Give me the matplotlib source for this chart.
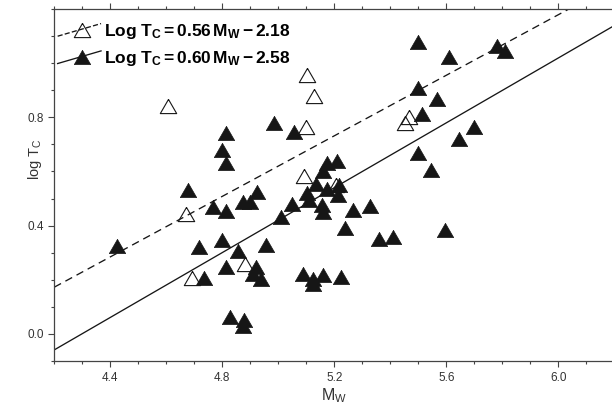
import numpy as np
import matplotlib
matplotlib.use("Agg")
import matplotlib.pyplot as plt
from matplotlib.lines import Line2D
from matplotlib.legend_handler import HandlerLine2D
from matplotlib.ticker import MultipleLocator, FixedLocator, FormatStrFormatter

# Magnitude and log Tc for the two event groups
open_mw = [4.605, 5.104, 5.129, 5.099, 5.092, 4.670, 4.691, 4.881, 5.206, 5.452, 5.468]
open_logtc = [0.842, 0.957, 0.879, 0.765, 0.583, 0.444, 0.207, 0.259, 0.549, 0.778, 0.800]

filled_mw = [4.425, 4.679, 4.718, 4.735, 4.768, 4.800, 4.800, 4.813, 4.813, 4.813,
             4.813, 4.828, 4.857, 4.873, 4.877, 4.875, 4.899, 4.909, 4.920, 4.923,
             4.937, 4.956, 4.985, 5.008, 5.048, 5.055, 5.087, 5.104, 5.111, 5.125,
             5.125, 5.135, 5.155, 5.159, 5.159, 5.161, 5.175, 5.175, 5.211, 5.216,
             5.214, 5.223, 5.237, 5.268, 5.328, 5.361, 5.411, 5.498, 5.498, 5.498,
             5.514, 5.544, 5.566, 5.595, 5.611, 5.646, 5.700, 5.782, 5.810]
filled_logtc = [0.323, 0.532, 0.320, 0.207, 0.469, 0.678, 0.345, 0.741, 0.630, 0.454,
                0.247, 0.062, 0.306, 0.027, 0.052, 0.487, 0.487, 0.222, 0.247, 0.524,
                0.204, 0.327, 0.778, 0.430, 0.481, 0.747, 0.222, 0.520, 0.494, 0.204,
                0.183, 0.555, 0.475, 0.450, 0.216, 0.603, 0.630, 0.537, 0.638, 0.550,
                0.512, 0.210, 0.390, 0.457, 0.473, 0.352, 0.356, 1.080, 0.910, 0.667,
                0.812, 0.605, 0.870, 0.385, 1.022, 0.722, 0.763, 1.064, 1.047]

# Regression fits: log Tc = slope * Mw + intercept
fit_slopes = [0.56, 0.60]
fit_intercepts = [-2.18, -2.58]
fit_labels = [r"$\mathbf{Log\ T_C = 0.56\,M_W - 2.18}$",
              r"$\mathbf{Log\ T_C = 0.60\,M_W - 2.58}$"]

x_limits = (4.2, 6.2)
y_limits = (-0.1, 1.2)
x_ticks = [4.4, 4.8, 5.2, 5.6, 6.0]
y_ticks = [0.0, 0.4, 0.8]

plt.rcParams["font.family"] = ["Liberation Sans", "DejaVu Sans"]
plt.rcParams["mathtext.fontset"] = "custom"
plt.rcParams["mathtext.rm"] = "Liberation Sans"
plt.rcParams["mathtext.it"] = "Liberation Sans"
plt.rcParams["mathtext.bf"] = "Liberation Sans:bold"
plt.rcParams["lines.scale_dashes"] = False

TEXT = "#333333"
INK = "#161616"

# equilateral triangle centred on its bounding box
TRI = [(0.0, 0.866), (-1.0, -0.866), (1.0, -0.866), (0.0, 0.866)]
MS = 11.8

fig = plt.figure(figsize=(6.12, 4.05), dpi=100)
ax = fig.add_axes([0.0887, 0.1094, 0.9151, 0.8676])

xs = np.array(x_limits)
styles = [dict(linestyle=(0, (5.5, 3.6)), color=INK, lw=0.95),
          dict(linestyle="-", color=INK, lw=0.95)]
for slope, icpt, st in zip(fit_slopes, fit_intercepts, styles):
    ax.plot(xs, slope * xs + icpt, zorder=2, **st)

ax.plot(open_mw, open_logtc, linestyle="None", marker=TRI, ms=MS,
        mfc="none", mec=INK, mew=0.8, zorder=3)
ax.plot(filled_mw, filled_logtc, linestyle="None", marker=TRI, ms=MS,
        mfc=INK, mec=INK, mew=0.5, zorder=4)

ax.set_xlim(*x_limits)
ax.set_ylim(*y_limits)
ax.xaxis.set_major_locator(FixedLocator(x_ticks))
ax.xaxis.set_minor_locator(MultipleLocator(0.1))
ax.yaxis.set_major_locator(FixedLocator(y_ticks))
ax.yaxis.set_minor_locator(MultipleLocator(0.1))
ax.xaxis.set_major_formatter(FormatStrFormatter("%.1f"))
ax.yaxis.set_major_formatter(FormatStrFormatter("%.1f"))
ax.tick_params(which="both", direction="out", top=True, right=True,
               color="#444444", width=0.8, labelsize=8.5, labelcolor=TEXT)
ax.tick_params(axis="x", pad=4)
ax.tick_params(axis="y", pad=3.5)
ax.tick_params(which="major", length=4)
ax.tick_params(which="minor", length=2.5)
for sp in ax.spines.values():
    sp.set_color("#444444")
    sp.set_linewidth(0.9)

ax.set_xlabel(r"$\mathregular{M_W}$", fontsize=11.5, color=TEXT, labelpad=1.5)
ax.set_ylabel(r"$\mathregular{log\ T_C}$", fontsize=10.5, color=TEXT)
ax.yaxis.set_label_coords(-0.019, 0.574)


class SlantedHandler(HandlerLine2D):
    """Legend handle with a tilted line and a marker at its middle."""

    def create_artists(self, legend, orig_handle, xdescent, ydescent,
                       width, height, fontsize, trans):
        x0, x1 = -xdescent, -xdescent + width
        y0, y1 = -ydescent - 0.02 * height, -ydescent + 1.02 * height
        line = Line2D([x0, x1], [y0, y1], linestyle=orig_handle.get_linestyle(),
                      color=orig_handle.get_color(), lw=orig_handle.get_linewidth())
        mark = Line2D([(x0 + x1) / 2 + 2], [(y0 + y1) / 2], linestyle="None",
                      marker=orig_handle.get_marker(), ms=orig_handle.get_markersize(),
                      mfc=orig_handle.get_markerfacecolor(),
                      mec=orig_handle.get_markeredgecolor(),
                      mew=orig_handle.get_markeredgewidth())
        line.set_transform(trans)
        mark.set_transform(trans)
        return [line, mark]


handles = [Line2D([], [], marker=TRI, ms=MS, mfc="none", mec=INK, mew=0.8, **styles[0]),
           Line2D([], [], marker=TRI, ms=MS, mfc=INK, mec=INK, mew=0.5, **styles[1])]
ax.legend(handles, fit_labels, loc="upper left", bbox_to_anchor=(0.006, 0.964),
          frameon=False, fontsize=12.5, handlelength=2.5, handletextpad=0.17,
          labelspacing=0.48, borderpad=0, borderaxespad=0,
          handler_map={Line2D: SlantedHandler()})

fig.savefig("out.png", dpi=100)
